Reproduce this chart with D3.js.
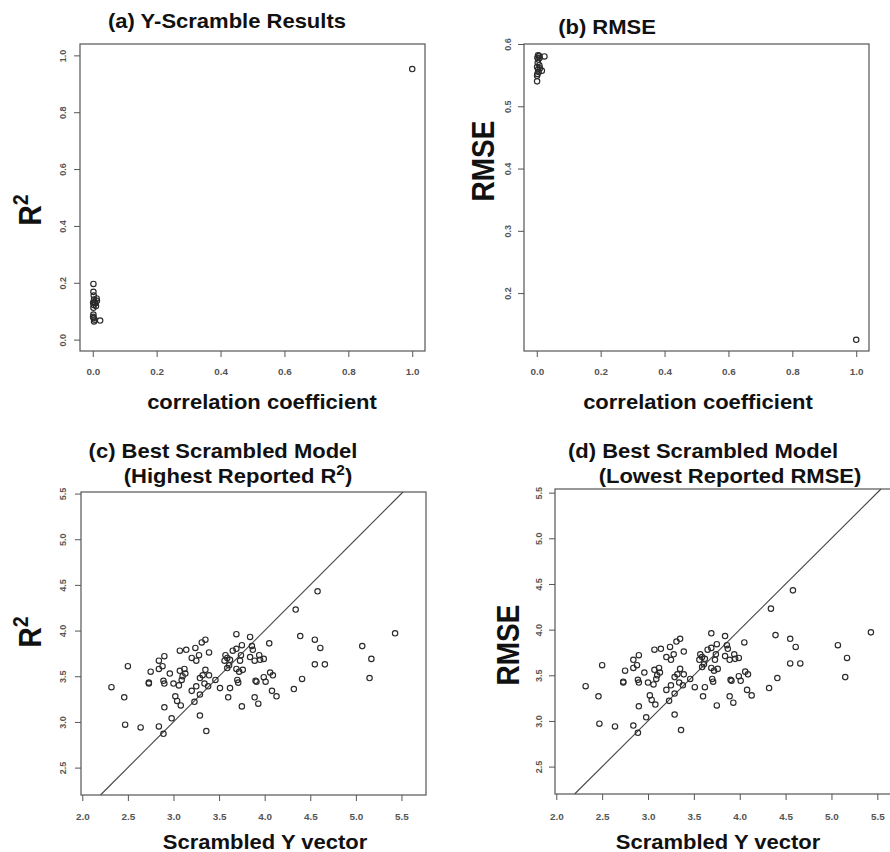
<!DOCTYPE html>
<html>
<head>
<meta charset="utf-8">
<script src="https://cdn.jsdelivr.net/npm/d3@7"></script>
<style>
  body { margin: 0; background: #fff; }
  svg { display: block; }
</style>
</head>
<body>
<div id="chart"></div>
<script>
// (a) y-scramble: correlation coefficient vs R2
const corrA = [0.002, 0.002, 0.003, 0.004, 0.013, 0.008, 0.003, 0.005, 0.010, 0.002, 0.002, 0.001, 0.003, 0.004, 0.006, 0.023, 0.012, 0.001, 1.0]
const r2A = [0.196, 0.168, 0.155, 0.141, 0.137, 0.128, 0.122, 0.132, 0.118, 0.112, 0.088, 0.080, 0.076, 0.064, 0.070, 0.067, 0.145, 0.130, 0.952]

// (b) correlation coefficient vs RMSE
const corrB = [0.004, 0.007, 0.024, 0.002, 0.005, 0.003, 0.008, 0.001, 0.010, 0.004, 0.016, 0.006, 0.002, 0.001, 0.001, 0.009, 1.0]
const rmseB = [0.582, 0.581, 0.580, 0.578, 0.575, 0.570, 0.566, 0.563, 0.561, 0.559, 0.557, 0.555, 0.552, 0.549, 0.540, 0.578, 0.125]

// (c)/(d) best scrambled model: scrambled y vs predicted
const scrambledY = [2.32, 2.46, 2.47, 2.50, 2.64, 2.73, 2.73, 2.75, 2.84, 2.84, 2.84, 2.88, 2.89, 2.90, 2.90, 2.89, 2.90,
  2.96, 2.98, 3.00, 3.02, 3.04, 3.07, 3.07, 3.06, 3.08, 3.09, 3.10, 3.12, 3.13, 3.14, 3.20, 3.20, 3.23, 3.24, 3.25, 3.25,
  3.28, 3.29, 3.29, 3.29, 3.31, 3.32, 3.34, 3.35, 3.35, 3.36, 3.38, 3.39, 3.39, 3.46, 3.51, 3.56, 3.57, 3.59, 3.59, 3.60,
  3.61, 3.62, 3.62, 3.65, 3.69, 3.69, 3.69, 3.70, 3.71, 3.73, 3.74, 3.72, 3.75, 3.75, 3.76, 3.84, 3.84, 3.86, 3.87, 3.89,
  3.89, 3.90, 3.91, 3.93, 3.94, 3.95, 3.99, 3.99, 4.01, 4.05, 4.06, 4.08, 4.09, 4.13, 4.32, 4.34, 4.39, 4.41, 4.55, 4.55,
  4.58, 4.61, 4.66, 5.07, 5.15, 5.17, 5.43]
const predictedY = [3.38, 3.27, 2.97, 3.61, 2.94, 3.43, 3.42, 3.55, 3.67, 2.95, 3.58, 3.61, 2.87, 3.16, 3.72, 3.45, 3.42,
  3.53, 3.04, 3.42, 3.28, 3.23, 3.78, 3.56, 3.40, 3.18, 3.46, 3.50, 3.58, 3.53, 3.79, 3.70, 3.34, 3.22, 3.81, 3.39, 3.67,
  3.73, 3.48, 3.07, 3.30, 3.87, 3.51, 3.42, 3.90, 3.57, 2.90, 3.39, 3.76, 3.51, 3.46, 3.37, 3.67, 3.73, 3.70, 3.59, 3.27,
  3.62, 3.37, 3.68, 3.78, 3.96, 3.80, 3.58, 3.46, 3.43, 3.67, 3.73, 3.55, 3.84, 3.17, 3.57, 3.93, 3.71, 3.83, 3.79, 3.27,
  3.67, 3.45, 3.44, 3.20, 3.73, 3.68, 3.49, 3.69, 3.44, 3.86, 3.54, 3.34, 3.51, 3.28, 3.36, 4.23, 3.94, 3.47, 3.90, 3.63,
  4.43, 3.81, 3.63, 3.83, 3.48, 3.69, 3.97]

const corrTicks = [0, 0.2, 0.4, 0.6, 0.8, 1.0]
const r2Ticks = [0, 0.2, 0.4, 0.6, 0.8, 1.0]
const rmseTicks = [0.2, 0.3, 0.4, 0.5, 0.6]
const yvecTicks = [2.0, 2.5, 3.0, 3.5, 4.0, 4.5, 5.0, 5.5]
const predTicks = [2.5, 3.0, 3.5, 4.0, 4.5, 5.0, 5.5]

const width = 890
const height = 852
const SX = 1.1 // the source picture is a bit stretched sideways
const FONT = "'Liberation Sans', Arial, sans-serif"

const svg = d3.select("#chart").append("svg")
  .attr("width", width)
  .attr("height", height)

// text helper; parts = [{t, sup}]
function label(x, y, parts, size, rotate) {
  const t = svg.append("text")
    .attr("transform", "translate(" + x + "," + y + ") scale(" + SX + ",1)" + (rotate ? " rotate(-90)" : ""))
    .attr("text-anchor", "middle")
    .attr("y", size * 0.35)
    .style("font-family", FONT)
    .style("font-size", size + "px")
    .style("font-weight", "bold")
    .style("fill", "#111")
  if (typeof parts === "string") parts = [{ t: parts }]
  parts.forEach((p) => {
    const s = t.append("tspan").text(p.t)
    if (p.sup) s.attr("dy", -size * 0.4).style("font-size", (size * 0.7) + "px")
    else if (p.after) s.attr("dy", size * 0.4)
  })
  return t
}

function panel(cfg) {
  const x = d3.scaleLinear().domain(cfg.xDomain).range([cfg.left, cfg.right])
  const y = d3.scaleLinear().domain(cfg.yDomain).range([cfg.bottom, cfg.top])
  const g = svg.append("g")

  const xAxis = g.append("g")
    .attr("transform", "translate(0," + cfg.bottom + ")")
    .call(d3.axisBottom(x).tickValues(cfg.xTicks).tickSize(6).tickSizeOuter(0).tickFormat(d3.format(".1f")))
  const yAxis = g.append("g")
    .attr("transform", "translate(" + cfg.left + ",0)")
    .call(d3.axisLeft(y).tickValues(cfg.yTicks).tickSize(6).tickSizeOuter(0).tickFormat(d3.format(".1f")))

  ;[xAxis, yAxis].forEach((a) => {
    a.select(".domain").remove()
    a.selectAll("line").attr("stroke", "#555").attr("stroke-width", 1)
    a.selectAll("text")
      .style("font-family", FONT)
      .style("font-size", "9px")
      .style("font-weight", "bold")
      .style("fill", "#555")
      .attr("dy", null)
      .attr("dominant-baseline", "central")
  })
  xAxis.selectAll("text")
    .attr("y", null)
    .attr("transform", "translate(0," + (cfg.xLabelY - cfg.bottom) + ") scale(" + SX + ",1)")
  yAxis.selectAll("text")
    .attr("x", null)
    .attr("text-anchor", "middle")
    .attr("transform", "translate(" + (cfg.yLabelX - cfg.left) + ",0) scale(" + SX + ",1) rotate(-90)")

  if (cfg.diagonal) {
    const lo = Math.max(cfg.xDomain[0], cfg.yDomain[0])
    const hi = Math.min(cfg.xDomain[1], cfg.yDomain[1])
    g.append("line")
      .attr("x1", x(lo)).attr("y1", y(lo))
      .attr("x2", x(hi)).attr("y2", y(hi))
      .attr("stroke", "#444")
      .attr("stroke-width", 1.1)
  }

  g.selectAll(".pt")
    .data(cfg.xs.map((d, i) => [d, cfg.ys[i]]))
    .enter()
    .append("circle")
    .attr("class", "pt")
    .attr("cx", (d) => x(d[0]))
    .attr("cy", (d) => y(d[1]))
    .attr("r", 2.7)
    .attr("fill", "none")
    .attr("stroke", "#2a2a2a")
    .attr("stroke-width", 1.15)

  g.append("rect")
    .attr("x", cfg.left).attr("y", cfg.top)
    .attr("width", cfg.right - cfg.left).attr("height", cfg.bottom - cfg.top)
    .attr("fill", "none")
    .attr("stroke", "#555")
    .attr("stroke-width", 1.2)
}

panel({
  xs: corrA, ys: r2A, xDomain: [-0.04, 1.04], yDomain: [-0.04, 1.04],
  left: 80, right: 425, top: 44, bottom: 351,
  xTicks: corrTicks, yTicks: r2Ticks, xLabelY: 372, yLabelX: 62
})
panel({
  xs: corrB, ys: rmseB, xDomain: [-0.04, 1.04], yDomain: [0.107, 0.600],
  left: 524, right: 869, top: 44, bottom: 351,
  xTicks: corrTicks, yTicks: rmseTicks, xLabelY: 372, yLabelX: 507
})
panel({
  xs: scrambledY, ys: predictedY, xDomain: [1.986, 5.769], yDomain: [2.2, 5.517],
  left: 81, right: 426, top: 492, bottom: 795,
  xTicks: yvecTicks, yTicks: predTicks, xLabelY: 817, yLabelX: 62, diagonal: true
})
panel({
  xs: scrambledY, ys: predictedY, xDomain: [1.986, 5.769], yDomain: [2.2, 5.54],
  left: 555, right: 902, top: 489, bottom: 794,
  xTicks: yvecTicks, yTicks: predTicks, xLabelY: 817, yLabelX: 538, diagonal: true
})

// titles
label(227, 21, "(a) Y-Scramble Results", 20)
label(607, 27, "(b) RMSE", 20)
label(223, 451, "(c) Best Scrambled Model", 20)
label(238, 476, [{ t: "(Highest Reported R" }, { t: "2", sup: true }, { t: ")", after: true }], 20)
label(703, 451, "(d) Best Scrambled Model", 20)
label(730, 476, "(Lowest Reported RMSE)", 20)

// axis titles
label(262, 402, "correlation coefficient", 20)
label(698, 402, "correlation coefficient", 20)
label(265, 842, "Scrambled Y vector", 20)
label(718, 842, "Scrambled Y vector", 20)
label(30, 210, [{ t: "R" }, { t: "2", sup: true }], 28, true)
label(483, 161, "RMSE", 28, true)
label(30, 632, [{ t: "R" }, { t: "2", sup: true }], 28, true)
label(508, 645, "RMSE", 28, true)
</script>
</body>
</html>
